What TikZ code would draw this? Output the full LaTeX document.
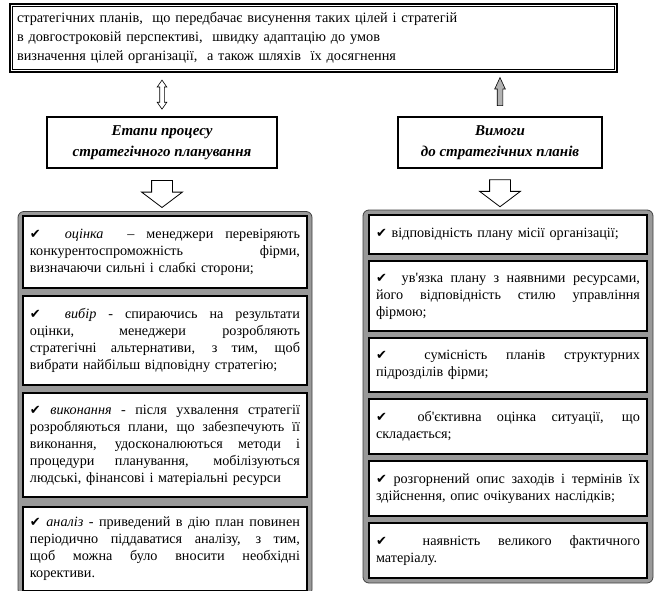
\documentclass[tikz,border=0pt]{standalone}
\usepackage{fontspec}
\setmainfont{Liberation Serif}
\newfontfamily\symfont{DejaVu Sans}
\usetikzlibrary{calc, positioning, fit, backgrounds, shapes.arrows}
\definecolor{framegray}{gray}{0.6}
\newlength{\linew}
\newcommand{\chk}{{\symfont\fontsize{13}{13}\selectfont ✔}}
\newcommand{\jl}[1]{\makebox[\linew][s]{\spaceskip=0pt\xspaceskip=0pt\relax #1}\\}
\newcommand{\term}[1]{\textit{#1}}

\begin{document}
\begin{tikzpicture}[x=1pt, y=-1pt,
  every node/.style = {font=\fontsize{14.2}{17}\selectfont},
  topbox/.style   = {draw=black, line width=2.5pt, minimum width=607pt,
                     minimum height=68pt, text width=593pt, align=left,
                     inner sep=0pt, font=\fontsize{14.3}{19}\selectfont},
  headbox/.style  = {draw=black, line width=2pt, minimum height=51pt,
                     align=center, inner sep=0pt,
                     font=\fontsize{15}{21}\selectfont\bfseries\itshape},
  grpframe/.style = {draw=black!75, fill=framegray, rounded corners=6pt,
                     line width=0.8pt},
  itembox/.style  = {draw=black, line width=2pt, fill=white, align=left,
                     inner sep=0pt},
  itemL/.style    = {itembox, minimum width=284pt, text width=270pt,
                     execute at begin node={\setlength{\linew}{270pt}}},
  itemR/.style    = {itembox, minimum width=278pt, text width=264pt,
                     execute at begin node={\setlength{\linew}{264pt}}},
  dblarr/.style   = {double arrow, draw=black, line width=0.6pt, fill=white,
                     inner xsep=0pt, inner ysep=2pt, minimum height=29pt,
                     double arrow head extend=2.5pt, double arrow tip angle=70,
                     rotate=90},
  uparr/.style    = {single arrow, draw=black, line width=0.6pt, fill=black!30,
                     inner xsep=0pt, inner ysep=2.5pt, minimum height=28pt,
                     single arrow head extend=2.5pt, single arrow tip angle=50,
                     rotate=90},
  downarr/.style  = {single arrow, draw=black, line width=0.8pt, fill=white,
                     inner xsep=0pt, inner ysep=10pt, minimum height=27pt,
                     single arrow head extend=10pt, single arrow tip angle=106,
                     rotate=-90},
]
  \useasboundingbox (0,0) rectangle (654,590);

  % ------------------------------------------------------------- top box
  \node[topbox] (top) at (313.5,38) {стратегічних планів,\ \ що передбачає висунення таких цілей і стратегій\\
        в довгостроковій перспективі,\ \ швидку адаптацію до умов\\
        визначення цілей\ організації,\ \ а також шляхів\ \ їх\ досягнення};
  \draw[line width=1pt] ([shift={(4,4)}]top.north west) rectangle ([shift={(-4,-4)}]top.south east);

  % ------------------------------------------------------------- headers
  \node[headbox, minimum width=230pt] (hdrL) at (162,142.5) {Етапи процесу\\ стратегічного планування};
  \node[headbox, minimum width=204pt] (hdrR) at (500,142.5) {Вимоги\\ до стратегічних планів};

  \node[dblarr] (arL) at ($(top.south -| hdrL.north)!.5!(hdrL.north)$) {};
  \node[uparr]  (arR) at ($(top.south -| hdrR.north)!.5!(hdrR.north)$) {};

  % ------------------------------------------------------------- stages
  \node[itemL, minimum height=72pt, anchor=north] (L1) at (165,215) {%
        \jl{\chk\ \ \term{оцінка} \ – менеджери перевіряють}
        \jl{конкурентоспроможність фірми,}
        визначаючи сильні і слабкі сторони;};
  \node[itemL, minimum height=89pt, below=6pt of L1] (L2) {%
        \jl{\chk\ \ \term{вибір} - спираючись на результати}
        \jl{оцінки, менеджери розробляють}
        \jl{стратегічні альтернативи, з тим, щоб}
        вибрати найбільш\ відповідну\ стратегію;};
  \node[itemL, minimum height=104pt, below=6pt of L2] (L3) {%
        \jl{\chk\ \term{виконання} - після ухвалення стратегії}
        \jl{розробляються плани, що забезпечують її}
        \jl{виконання, удосконалюються методи і}
        \jl{процедури планування, мобілізуються}
        людські, фінансові\ і матеріальні ресурси};
  \node[itemL, minimum height=84pt, below=8pt of L3] (L4) {%
        \jl{\chk\ \term{аналіз} - приведений в дію план повинен}
        \jl{періодично піддаватися аналізу, з тим,}
        \jl{щоб можна було вносити необхідні}
        корективи.};

  % ------------------------------------------------------------- requirements
  \node[itemR, minimum height=39pt, anchor=north] (R1) at (508,214) {%
        \chk\ відповідність\ плану місії\ організації;};
  \node[itemR, minimum height=70pt, below=5pt of R1] (R2) {%
        \jl{\chk\ \ ув\textquotesingle язка плану з наявними ресурсами,}
        \jl{його відповідність стилю управління}
        фірмою;};
  \node[itemR, minimum height=54pt, below=5pt of R2] (R3) {%
        \jl{\chk\ \ сумісність планів структурних}
        підрозділів\ фірми;};
  \node[itemR, minimum height=55pt, below=5pt of R3] (R4) {%
        \jl{\chk\ \ об\textquotesingle єктивна оцінка ситуації, що}
        складається;};
  \node[itemR, minimum height=55pt, below=5pt of R4] (R5) {%
        \jl{\chk\ розгорнений опис заходів і термінів їх}
        здійснення,\ опис очікуваних наслідків;};
  \node[itemR, minimum height=55pt, below=5pt of R5] (R6) {%
        \jl{\chk\ \ наявність великого фактичного}
        матеріалу.};

  % ------------------------------------------------------------- frames
  \begin{scope}[on background layer]
    \node[grpframe, fit=(L1)(L4), inner xsep=4pt, inner ysep=3.5pt] (grpL) {};
    \node[grpframe, fit=(R1)(R6), inner xsep=5pt, inner ysep=4pt] (grpR) {};
  \end{scope}

  \node[downarr] (dnL) at ($(hdrL.south)!.5!(hdrL.south |- grpL.north)$) {};
  \node[downarr] (dnR) at ($(hdrR.south)!.5!(hdrR.south |- grpR.north)$) {};

\end{tikzpicture}
\end{document}
